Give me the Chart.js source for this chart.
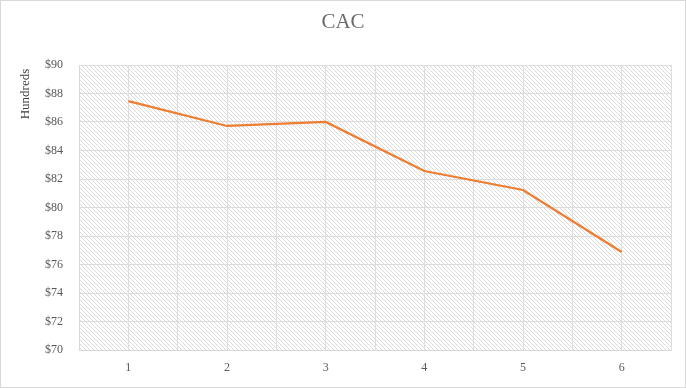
<!DOCTYPE html>
<html>
<head>
<meta charset="utf-8">
<script src="https://cdn.jsdelivr.net/npm/chart.js@4"></script>
<style>
  html, body { margin: 0; padding: 0; background: #fff; }
  #wrap { width: 686px; height: 388px; }
</style>
</head>
<body>
<div id="wrap"><canvas id="cac" width="686" height="388"></canvas></div>
<script>
const periods = ['1', '2', '3', '4', '5', '6'];
const cacValues = [87.47, 85.72, 86.0, 82.56, 81.23, 76.88];
const yMin = 70, yMax = 90, yStep = 2;

const serif = '"Liberation Serif", "DejaVu Serif", serif';

// diagonal hatch tile, lines running top-left to bottom-right
function makeHatch(ctx) {
  const tile = document.createElement('canvas');
  tile.width = 4; tile.height = 4;
  const t = tile.getContext('2d');
  t.fillStyle = '#ffffff';
  t.fillRect(0, 0, 4, 4);
  t.fillStyle = '#dadada';
  for (let i = 0; i < 4; i++) t.fillRect(i, i, 1, 1);
  return ctx.createPattern(tile, 'repeat');
}

const decor = {
  id: 'decor',
  beforeDraw(chart) {
    const { ctx, chartArea: a } = chart;
    ctx.save();
    ctx.fillStyle = makeHatch(ctx);
    ctx.fillRect(a.left, a.top, a.right - a.left, a.bottom - a.top);
    ctx.restore();
  },
  afterDraw(chart) {
    const ctx = chart.ctx;
    ctx.save();
    ctx.strokeStyle = '#d9d9d9';
    ctx.lineWidth = 1;
    ctx.strokeRect(0.5, 0.5, chart.width - 1, chart.height - 1);

    ctx.fillStyle = '#6b6b6b';
    ctx.font = '21px ' + serif;
    ctx.textAlign = 'center';
    ctx.textBaseline = 'middle';
    ctx.fillText('CAC', 343, 22);

    ctx.translate(26, 94);
    ctx.rotate(-Math.PI / 2);
    ctx.fillStyle = '#404040';
    ctx.font = '13px ' + serif;
    ctx.fillText('Hundreds', 0, 0);
    ctx.restore();
  }
};

new Chart(document.getElementById('cac'), {
  type: 'line',
  data: {
    labels: periods,
    datasets: [{
      label: 'CAC',
      data: cacValues,
      borderColor: '#ED7D31',
      borderWidth: 2.25,
      pointRadius: 0,
      tension: 0,
      fill: false
    }]
  },
  options: {
    responsive: false,
    animation: false,
    layout: { padding: { top: 65, right: 15, bottom: 0, left: 0 } },
    plugins: { legend: { display: false }, tooltip: { enabled: false }, title: { display: false } },
    scales: {
      x: {
        type: 'category',
        offset: true,
        grid: { display: false },
        border: { color: '#d9d9d9' },
        ticks: { color: '#595959', font: { family: serif, size: 12 }, padding: 3 },
        afterFit: s => { s.height = 38; }
      },
      xgrid: {
        type: 'linear',
        position: 'bottom',
        min: 0, max: 12,
        ticks: { display: false, stepSize: 1 },
        grid: { color: '#dddddd', drawTicks: false },
        border: { display: false },
        afterFit: s => { s.height = 0; }
      },
      y: {
        min: yMin, max: yMax,
        ticks: {
          stepSize: yStep,
          color: '#595959',
          font: { family: serif, size: 12 },
          padding: 16,
          callback: v => '$' + v
        },
        grid: { color: '#dddddd', drawTicks: false },
        border: { color: '#d9d9d9' },
        afterFit: s => { s.width = 79; }
      }
    }
  },
  plugins: [decor]
});
</script>
</body>
</html>
